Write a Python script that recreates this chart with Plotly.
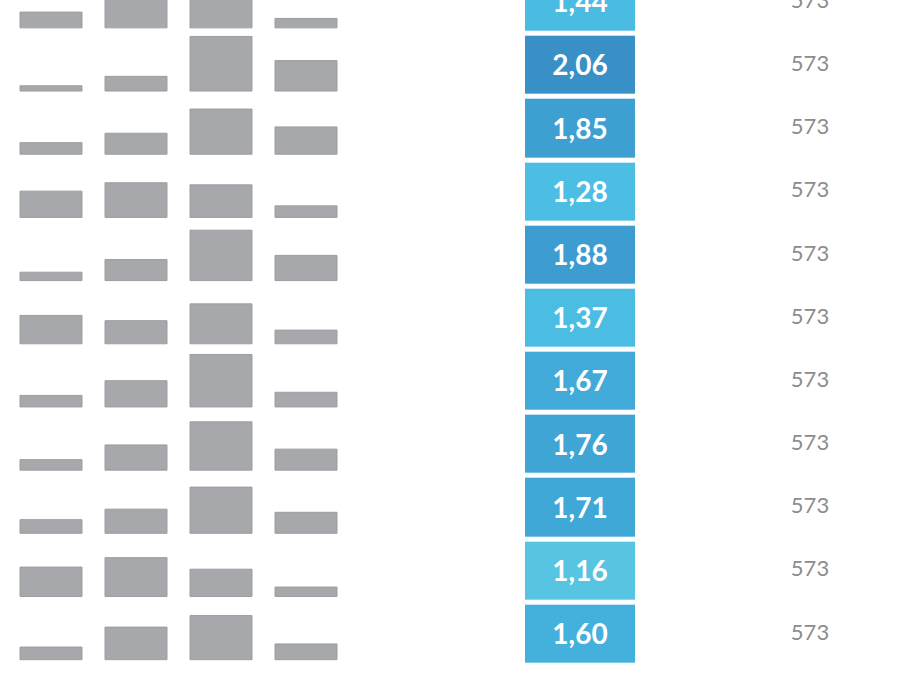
import plotly.graph_objects as go

# ---- data ----
scores = [1.44, 2.06, 1.85, 1.28, 1.88, 1.37, 1.67, 1.76, 1.71, 1.16, 1.60]
counts = [573] * 11
# share (%) of answers per category 0..3, per row
cat0 = [15, 5, 11, 25, 8, 27, 11, 10, 13, 28, 12]
cat1 = [35, 14, 20, 33, 20, 22, 25, 24, 23, 37, 31]
cat2 = [41, 52, 43, 31, 48, 38, 50, 46, 44, 26, 42]
cat3 = [9, 29, 26, 11, 24, 13, 14, 20, 20, 9, 15]
categories = ["0", "1", "2", "3"]

n = len(scores)
rows = [-i for i in range(n)]          # row position on shared y axis
PCT = 0.01662                           # row units per percent
BASE_OFF = 0.405                        # bar baseline below row centre

fig = go.Figure()

# small distribution bars
for ci, series in enumerate([cat0, cat1, cat2, cat3]):
    fig.add_trace(go.Bar(
        x=[categories[ci]] * n,
        y=[v * PCT for v in series],
        base=[r - BASE_OFF for r in rows],
        marker=dict(color="#a7a8ab", line=dict(color="#9c9da0", width=1)),
        xaxis="x", yaxis="y", showlegend=False, hoverinfo="skip",
        width=62 / 85,
    ))

# score cells
fig.add_trace(go.Heatmap(
    x=["score"], y=rows, z=[[s] for s in scores],
    zmin=min(scores), zmax=max(scores),
    colorscale=[[0, "#57c4e2"], [0.13, "#4dbee3"], [0.32, "#4abbe2"],
                [0.49, "#44b1dd"], [0.57, "#41aad9"], [0.8, "#3d9dd0"],
                [1, "#3990c6"]],
    showscale=False, ygap=5, xgap=0,
    texttemplate="%{z:.2f}",
    textfont=dict(family="Lato", size=28, color="white", weight="bold"),
    xaxis="x2", yaxis="y", hoverinfo="skip",
))

# N column
fig.add_trace(go.Scatter(
    x=["n"] * n, y=rows, mode="text", text=[str(c) for c in counts],
    textfont=dict(family="Lato", size=22, color="#8c8c8c"),
    xaxis="x3", yaxis="y", showlegend=False, hoverinfo="skip",
))

axis_off = dict(showgrid=False, zeroline=False, showticklabels=False,
                showline=False, ticks="")
fig.update_layout(
    width=900, height=684,
    margin=dict(l=0, r=0, t=0, b=0),
    paper_bgcolor="white", plot_bgcolor="white",
    separators=",.",
    barmode="overlay",
    xaxis=dict(domain=[8.5 / 900, 348.5 / 900], type="category",
               range=[-0.5, 3.5], **axis_off),
    xaxis2=dict(domain=[525 / 900, 635 / 900], type="category",
                range=[-0.5, 0.5], **axis_off),
    xaxis3=dict(domain=[760 / 900, 860 / 900], type="category",
                range=[-0.5, 0.5], **axis_off),
    yaxis=dict(range=[-10.79, 0.036], **axis_off),
)

fig.write_html("out.html",
               config={"displayModeBar": False},
               post_script="document.body.style.margin='0px';")
